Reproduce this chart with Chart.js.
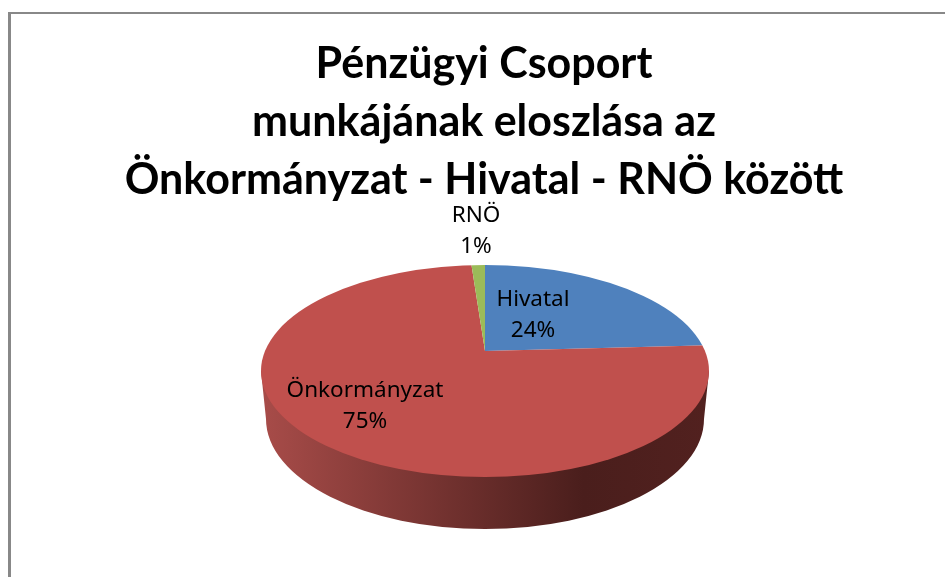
<!DOCTYPE html>
<html>
<head>
<meta charset="utf-8">
<script src="https://cdn.jsdelivr.net/npm/chart.js@4"></script>
<style>
    html, body { margin: 0; padding: 0; background: #fff; overflow: hidden; }
    #frame { position: absolute; left: 8px; top: 12px; width: 945px; height: 577px;
             border-left: 3px solid #888; border-top: 2px solid #888; }
    #pie { position: absolute; left: 0; top: 0; filter: blur(0.4px); }
</style>
</head>
<body>
<div id="frame"></div>
<canvas id="pie" width="945" height="577"></canvas>
<script>
const titleLines = ['Pénzügyi Csoport', 'munkájának eloszlása az', 'Önkormányzat - Hivatal - RNÖ között'];
const categories = ['Hivatal', 'Önkormányzat', 'RNÖ'];
const shares = [24, 75, 1];
const sliceColors = ['#4f81bd', '#c0504d', '#9bbb59'];

// the 3D look: slices fan out from the apex, the rim ellipses are a bit off centre
const apex = { x: 485, y: 351, squash: 0.4 };
const topRim = { x: 485, y: 371, rx: 224, ry: 106 };
const bottomRim = { x: 485, y: 419, rx: 219, ry: 110 };

// centre x and first baseline of each slice label
const labelSpots = [
    { x: 533, y: 306 },
    { x: 365, y: 397 },
    { x: 476, y: 222 }
];

const sidePlugin = {
    id: 'pieSide',
    beforeDatasetsDraw(chart) {
        const ctx = chart.ctx;
        const grad = ctx.createLinearGradient(topRim.x - topRim.rx, 0, topRim.x + topRim.rx, 0);
        grad.addColorStop(0, '#a84c49');
        grad.addColorStop(0.72, '#4a1e1c');
        grad.addColorStop(1, '#52211f');
        ctx.save();
        ctx.fillStyle = grad;
        ctx.beginPath();
        ctx.moveTo(topRim.x - topRim.rx, topRim.y);
        ctx.lineTo(bottomRim.x - bottomRim.rx, bottomRim.y);
        ctx.ellipse(bottomRim.x, bottomRim.y, bottomRim.rx, bottomRim.ry, 0, Math.PI, 0, true);
        ctx.lineTo(topRim.x + topRim.rx, topRim.y);
        ctx.closePath();
        ctx.fill();
        ctx.restore();
    },
    beforeDatasetDraw(chart) {
        const ctx = chart.ctx;
        const arc = chart.getDatasetMeta(0).data[0];
        ctx.save();
        ctx.beginPath();
        ctx.ellipse(topRim.x, topRim.y, topRim.rx, topRim.ry, 0, 0, Math.PI * 2);
        ctx.clip();
        ctx.translate(apex.x, apex.y);
        ctx.scale(1, apex.squash);
        ctx.translate(-arc.x, -arc.y);
    },
    afterDatasetDraw(chart) {
        chart.ctx.restore();
    },
    afterDatasetsDraw(chart) {
        const ctx = chart.ctx;
        ctx.save();
        ctx.font = '22.5px "Noto Sans"';
        ctx.fillStyle = '#000';
        ctx.textAlign = 'center';
        ctx.textBaseline = 'alphabetic';
        categories.forEach((name, i) => {
            ctx.fillText(name, labelSpots[i].x, labelSpots[i].y);
            ctx.fillText(shares[i] + '%', labelSpots[i].x, labelSpots[i].y + 31);
        });
        ctx.restore();
    }
};

new Chart(document.getElementById('pie').getContext('2d'), {
    type: 'pie',
    data: {
        labels: categories,
        datasets: [{
            data: shares,
            backgroundColor: sliceColors,
            borderWidth: 0,
            radius: 340,
            clip: false
        }]
    },
    options: {
        responsive: false,
        animation: false,
        layout: { padding: { left: 23, top: 35 } },
        plugins: {
            legend: { display: false },
            tooltip: { enabled: false },
            title: {
                display: true,
                text: titleLines,
                color: '#000',
                font: { family: 'Lato', weight: 'bold', size: 43, lineHeight: 1.35 },
                padding: 0
            }
        }
    },
    plugins: [sidePlugin]
});
</script>
</body>
</html>
